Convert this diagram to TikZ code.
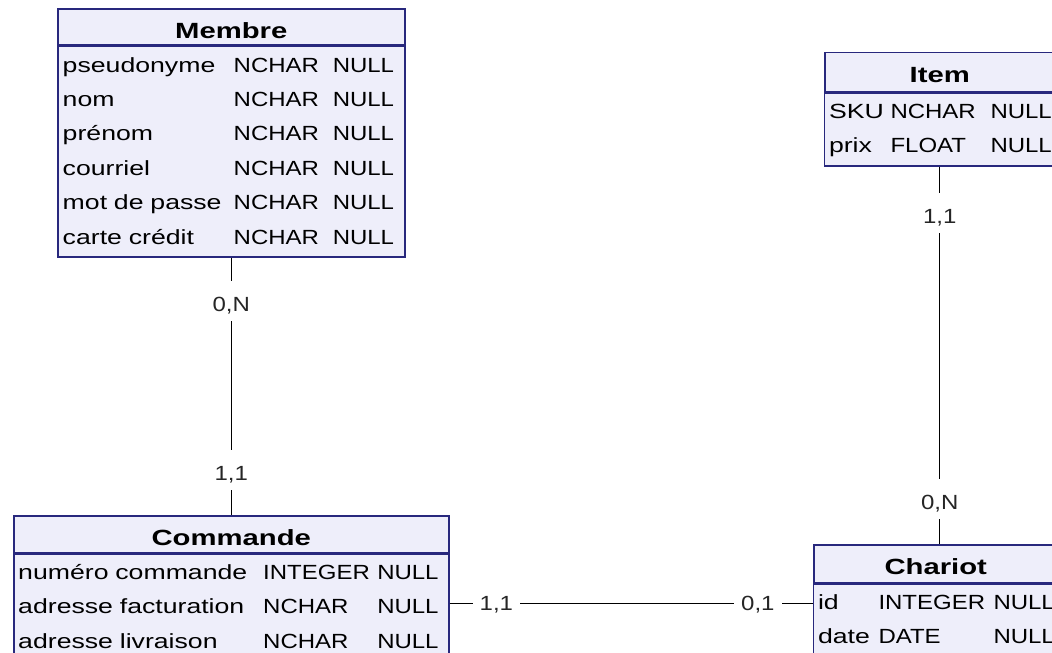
\documentclass[tikz,border=0pt]{standalone}
\usepackage{fontspec}
\setmainfont{Liberation Sans}[FakeStretch=1.3]
\newfontfamily\typefamily{Liberation Sans}[FakeStretch=1.17]
\newfontfamily\headfamily{Liberation Sans}[FakeStretch=1.33]
\usetikzlibrary{matrix}
\definecolor{tablefill}{RGB}{238,238,250}
\definecolor{tableline}{RGB}{40,40,125}
\newcommand{\attrfont}{\fontsize{20.5}{34.4}\selectfont}
\newcommand{\typefont}{\typefamily\fontsize{20.5}{34.4}\selectfont}
\newcommand{\headfont}{\headfamily\fontsize{22}{26}\selectfont\bfseries}

\tikzset{
  entity/.style={draw=tableline, fill=tablefill, line width=1.5pt,
    minimum width=#1},
  head/.style={entity=#1, anchor=north west, inner sep=0pt,
    text height=24pt, text depth=2pt, font=\headfont},
  attrs/.style={entity=#1, matrix of nodes, anchor=north,
    inner xsep=4.5pt, inner ysep=2pt, ampersand replacement=\&,
    nodes={minimum width=0pt, inner sep=0pt, text height=23.5pt,
      text depth=10.9pt, align=left, font=\attrfont,
      execute at begin node={\hyphenpenalty=10000\relax}}},
  link/.style={line width=1.2pt},
  card/.style={fill=white, inner xsep=7pt, inner ysep=6pt,
    text height=25pt, text depth=3pt, font=\typefont, text=black!85},
}

\begin{document}
\begin{tikzpicture}[x=1pt,y=-1pt]
\useasboundingbox (0,0) rectangle (1052,653);
\clip (0,0) rectangle (1052,653);
\fill[white] (0,0) rectangle (1052,653);

% tables
\node[head=347pt, minimum height=36pt] (membre) at (57,8.3) {Membre};
\matrix[attrs=347pt,
  column 1/.style={nodes={text width=171pt}},
  column 2/.style={nodes={text width=99pt, font=\typefont}},
  column 3/.style={nodes={text width=67pt, font=\typefont}}]
  (membre-attr) at (membre.south)
{
  pseudonyme   \& NCHAR \& NULL \\
  nom          \& NCHAR \& NULL \\
  prénom       \& NCHAR \& NULL \\
  courriel     \& NCHAR \& NULL \\
  mot de passe \& NCHAR \& NULL \\
  carte crédit \& NCHAR \& NULL \\
};

\node[head=230pt, minimum height=39pt] (item) at (824,51.7) {Item};
\matrix[attrs=230pt,
  column 1/.style={nodes={text width=61.5pt}},
  column 2/.style={nodes={text width=100pt, font=\typefont}},
  column 3/.style={nodes={text width=60pt, font=\typefont}}]
  (item-attr) at (item.south)
{
  SKU  \& NCHAR \& NULL \\
  prix \& FLOAT \& NULL \\
};

\node[head=435pt, minimum height=36.7pt] (commande) at (13,515) {Commande};
\matrix[attrs=435pt,
  column 1/.style={nodes={text width=245pt}},
  column 2/.style={nodes={text width=114pt, font=\typefont}},
  column 3/.style={nodes={text width=67pt, font=\typefont}}]
  (commande-attr) at (commande.south)
{
  numéro commande     \& INTEGER \& NULL \\
  adresse facturation \& NCHAR   \& NULL \\
  adresse livraison   \& NCHAR   \& NULL \\
};

\node[head=244pt, minimum height=37.7pt] (chariot) at (813,544) {Chariot};
\matrix[attrs=244pt,
  column 1/.style={nodes={text width=60.5pt}},
  column 2/.style={nodes={text width=115pt, font=\typefont}},
  column 3/.style={nodes={text width=60pt, font=\typefont}}]
  (chariot-attr) at (chariot.south)
{
  id   \& INTEGER \& NULL \\
  date \& DATE    \& NULL \\
};

% links with cardinalities
\draw[link] (membre-attr.south)
  -- node[card, pos=0.167] (membre-card) {0,N}
     node[card, pos=0.825] (commande-card) {1,1}
  (commande.north);
\draw[link] (item-attr.south)
  -- node[card, pos=0.122] (item-card) {1,1}
     node[card, pos=0.880] (chariot-card) {0,N}
  (item-attr.south |- chariot.north);
\draw[link] (commande-attr.east |- chariot-attr-1-1)
  -- node[card, yshift=3.5pt, pos=0.129] (panier-card) {1,1}
     node[card, yshift=3.5pt, pos=0.849] (commande-opt) {0,1}
  (chariot-attr.west |- chariot-attr-1-1);
\end{tikzpicture}
\end{document}
